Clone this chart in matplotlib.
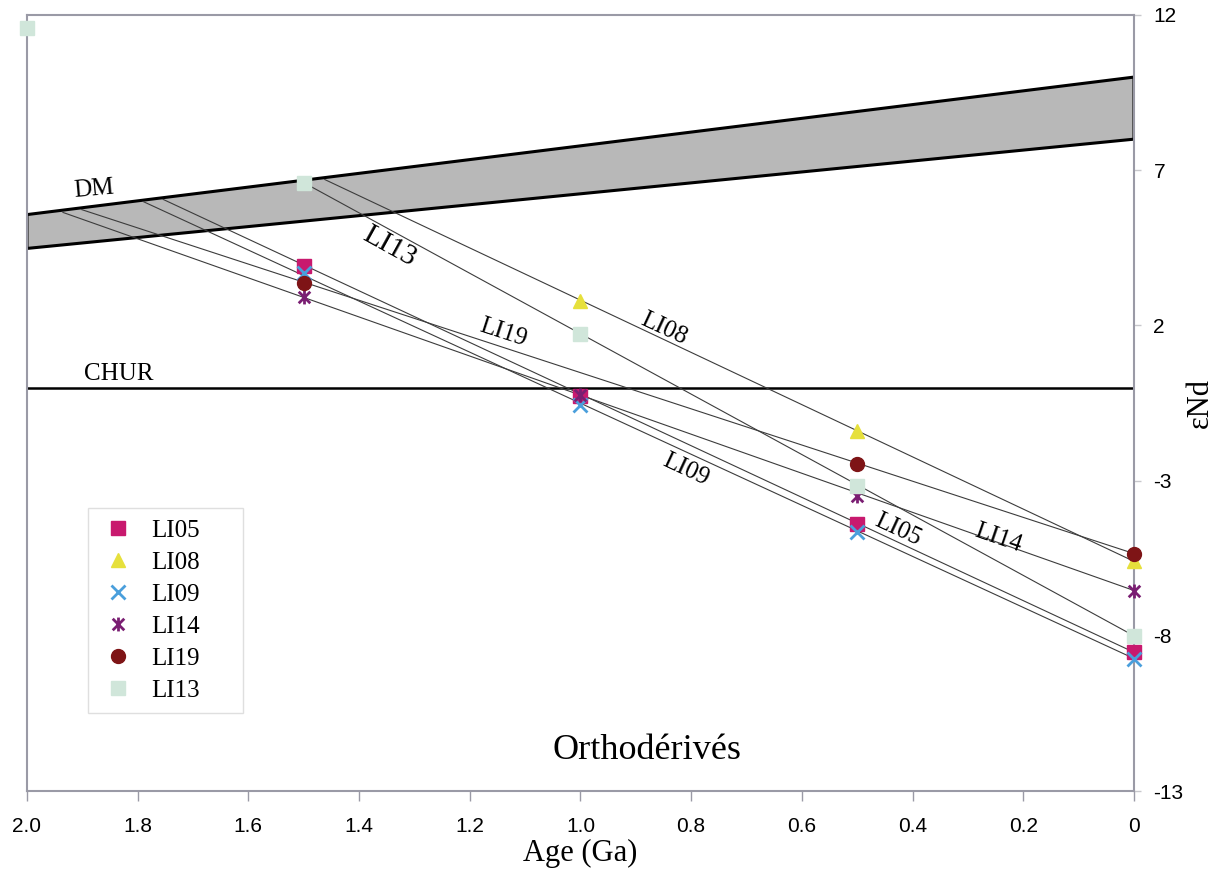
import numpy as np
import matplotlib.pyplot as plt
from matplotlib.path import Path

plt.rcParams["axes.unicode_minus"] = False

# Ages (Ga) at which eNd was computed
ages = [2.0, 1.5, 1.0, 0.5, 0.0]

# eNd values (nan = no point)
li05 = [np.nan, 3.9, -0.27, -4.39, -8.53]
li08 = [np.nan, np.nan, 2.8, -1.4, -5.6]
li09 = [np.nan, 3.68, -0.56, -4.65, -8.73]
li14 = [np.nan, 2.9, -0.25, -3.49, -6.54]
li19 = [np.nan, 3.36, np.nan, -2.46, -5.35]
li13 = [11.58, 6.6, 1.72, -3.17, -8.0]

# model ages: point where each evolution line meets DM (Ga, eNd)
tdm_age = {"LI05": 1.754, "LI08": 1.462, "LI09": 1.790,
           "LI14": 1.935, "LI19": 1.901, "LI13": 1.5}
tdm_eps = {"LI05": 6.06, "LI08": 6.70, "LI09": 5.99,
           "LI14": 5.64, "LI19": 5.73, "LI13": 6.6}

# depleted mantle band (age, upper eNd, lower eNd)
dm_age = [2.0, 0.0]
dm_upper = [5.57, 10.0]
dm_lower = [4.48, 8.0]

# asterisk marker (X with a vertical bar)
ast = Path([(-1, -1), (1, 1), (-1, 1), (1, -1), (0, -1.2), (0, 1.2)],
           [Path.MOVETO, Path.LINETO, Path.MOVETO, Path.LINETO, Path.MOVETO, Path.LINETO])

samples = [
    ("LI05", li05, dict(marker="s", color="#C8196E", ms=9.5)),
    ("LI08", li08, dict(marker="^", color="#E6E03C", ms=10)),
    ("LI09", li09, dict(marker="x", color="#4A9FDC", ms=10, mew=2)),
    ("LI14", li14, dict(marker=ast, color="#7A1E72", ms=10, mew=2)),
    ("LI19", li19, dict(marker="o", color="#7E1416", ms=10)),
    ("LI13", li13, dict(marker="s", color="#D0E6DA", ms=9.5)),
]

serif = "Liberation Serif"

fig = plt.figure(figsize=(12.2, 8.77), dpi=100)
ax = fig.add_axes([0.0221, 0.098, 0.9074, 0.8849])

# DM band
ax.fill(dm_age + dm_age[::-1], dm_upper + dm_lower[::-1],
        facecolor="#B8B8B8", edgecolor="black", lw=2.2, zorder=1)

# CHUR
ax.axhline(0, color="black", lw=1.8, zorder=2)

# evolution lines, from present-day value to DM
for name, vals, st in samples:
    ax.plot([0.0, tdm_age[name]], [vals[-1], tdm_eps[name]],
            color="#3C3C3C", lw=0.8, zorder=3)

for name, vals, st in samples:
    ax.plot(ages, vals, ls="none", label=name, mec=st["color"], mfc=st["color"],
            zorder=4, clip_on=False, **{k: v for k, v in st.items() if k != "color"})

# labels on the lines
lab = dict(family=serif, fontsize=18, ha="center", va="center", rotation_mode="anchor")
ax.text(1.88, 6.4, "DM", rotation=5, **lab)
ax.text(1.835, 0.45, "CHUR", **lab)
ax.text(1.345, 4.55, "LI13", **{**lab, "fontsize": 21}, rotation=-29)
ax.text(0.85, 1.9, "LI08", rotation=-25, **lab)
ax.text(1.14, 1.75, "LI19", rotation=-18, **lab)
ax.text(0.81, -2.65, "LI09", rotation=-25, **lab)
ax.text(0.426, -4.6, "LI05", rotation=-25, **lab)
ax.text(0.246, -4.85, "LI14", rotation=-19, **lab)

ax.text(0.88, -11.7, "Orthodérivés", family=serif, fontsize=26, ha="center", va="center")

ax.set_xlim(2.0, 0.0)
ax.set_ylim(-13, 12)
ax.set_xticks(np.arange(0, 2.01, 0.2))
ax.set_xticklabels(["0", "0.2", "0.4", "0.6", "0.8", "1.0", "1.2", "1.4", "1.6", "1.8", "2.0"])
ax.set_yticks([12, 7, 2, -3, -8, -13])

ax.yaxis.tick_right()
ax.yaxis.set_label_position("right")
for sp in ax.spines.values():
    sp.set_color("#9A9AA6")
    sp.set_linewidth(1.5)
ax.tick_params(axis="x", direction="out", length=7, width=1, color="#9A9AA6",
               pad=12, labelsize=15)
ax.tick_params(axis="y", direction="out", length=5, width=1, color="#C8C8CC",
               pad=9, labelsize=15)
for t in ax.get_xticklabels() + ax.get_yticklabels():
    t.set_family("Liberation Sans")

ax.set_xlabel("Age (Ga)", family=serif, fontsize=22, labelpad=2)
ax.set_ylabel("εNd", family=serif, fontsize=22, labelpad=2)

leg = ax.legend(loc="upper left", bbox_to_anchor=(0.0551, 0.365, 0.14, 0.0),
                mode="expand", borderaxespad=0, frameon=True, fancybox=False,
                prop=dict(family=serif, size=18), handlelength=1.5,
                handletextpad=0.6, labelspacing=0.38, borderpad=0.45)
leg.get_frame().set_edgecolor("#D8D8D8")
leg.get_frame().set_linewidth(1)

fig.savefig("out.png", dpi=100)
